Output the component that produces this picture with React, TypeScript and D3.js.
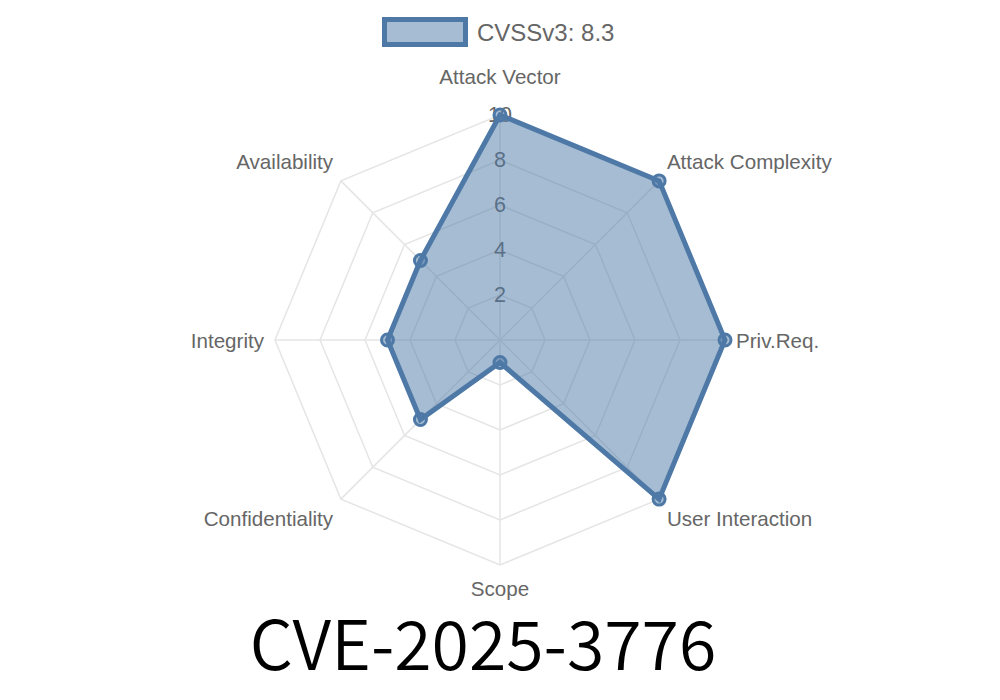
import React from "react";
import * as d3 from "d3";

const axes = [
  "Attack Vector",
  "Attack Complexity",
  "Priv.Req.",
  "User Interaction",
  "Scope",
  "Confidentiality",
  "Integrity",
  "Availability",
];
const values = [10, 10, 10, 10, 1, 5, 5, 5];
const ticks = [2, 4, 6, 8, 10];
const seriesLabel = "CVSSv3: 8.3";
const title = "CVE-2025-3776";

const W = 1000;
const H = 700;
const cx = 500;
const cy = 340;
const R = 225;
const blue = "#4e79a7";
const fill = "rgba(78,121,167,0.5)";
const labelFont = "'Liberation Sans', Arial, Helvetica, sans-serif";

export default function App() {
  const r = d3.scaleLinear().domain([0, 10]).range([0, R]);
  const angle = d3
    .scaleLinear()
    .domain([0, axes.length])
    .range([0, 2 * Math.PI]);
  const pt = (i: number, v: number): [number, number] => {
    const a = angle(i);
    return [cx + r(v) * Math.sin(a), cy - r(v) * Math.cos(a)];
  };

  const radial = d3
    .lineRadial<number>()
    .angle((_, i) => angle(i))
    .radius((d) => r(d))
    .curve(d3.curveLinearClosed);

  const gridPath = (v: number) => radial(axes.map(() => v)) || "";
  const dataPath = radial(values) || "";

  const labelR = 236;

  return (
    <svg
      width={W}
      height={H}
      style={{ position: "absolute", left: 0, top: 0, background: "#fff" }}
    >
      {/* legend */}
      <rect
        x={384.5}
        y={19.5}
        width={81}
        height={25}
        fill={fill}
        stroke={blue}
        strokeWidth={5}
      />
      <text
        x={477}
        y={32}
        dominantBaseline="central"
        fontFamily={labelFont}
        fontSize={24}
        fill="#666"
      >
        {seriesLabel}
      </text>

      {/* grid */}
      <g transform={`translate(${cx},${cy})`}>
        {ticks.map((t) => (
          <path
            key={t}
            d={gridPath(t)}
            fill="none"
            stroke="#e5e5e5"
            strokeWidth={1.5}
          />
        ))}
      </g>
      {axes.map((a, i) => {
        const [x, y] = pt(i, 10);
        return (
          <line
            key={a}
            x1={cx}
            y1={cy}
            x2={x}
            y2={y}
            stroke="#e5e5e5"
            strokeWidth={1.5}
          />
        );
      })}

      {/* tick labels */}
      {ticks.map((t) => (
        <text
          key={t}
          x={cx}
          y={cy - r(t)}
          textAnchor="middle"
          dominantBaseline="central"
          fontFamily={labelFont}
          fontSize={21.5}
          fill="#666"
        >
          {t}
        </text>
      ))}

      {/* point labels */}
      {axes.map((a, i) => {
        const ang = angle(i);
        const s = Math.sin(ang);
        const c = Math.cos(ang);
        const x = cx + labelR * s;
        let y = cy - labelR * c;
        if (c > 0.9) y -= 28;
        else if (c < -0.9) y += 12;
        else if (c > 0.1) y -= 12;
        else if (c < -0.1) y += 12;
        const anchor = s > 0.1 ? "start" : s < -0.1 ? "end" : "middle";
        return (
          <text
            key={a}
            x={x}
            y={y}
            textAnchor={anchor}
            dominantBaseline="central"
            fontFamily={labelFont}
            fontSize={20.6}
            fill="#666"
          >
            {a}
          </text>
        );
      })}

      {/* data */}
      <g transform={`translate(${cx},${cy})`}>
        <path
          d={dataPath}
          fill={fill}
          stroke={blue}
          strokeWidth={5}
          strokeLinejoin="miter"
        />
      </g>
      {values.map((v, i) => {
        const [x, y] = pt(i, v);
        return (
          <circle
            key={i}
            cx={x}
            cy={y}
            r={6}
            fill={fill}
            stroke={blue}
            strokeWidth={3}
          />
        );
      })}

      {/* title */}
      <text
        x={483}
        y={670}
        textAnchor="middle"
        fontFamily="'Noto Sans CJK JP', 'Noto Sans', sans-serif"
        fontWeight={350}
        fontSize={68}
        fill="#000"
      >
        {title}
      </text>
    </svg>
  );
}
